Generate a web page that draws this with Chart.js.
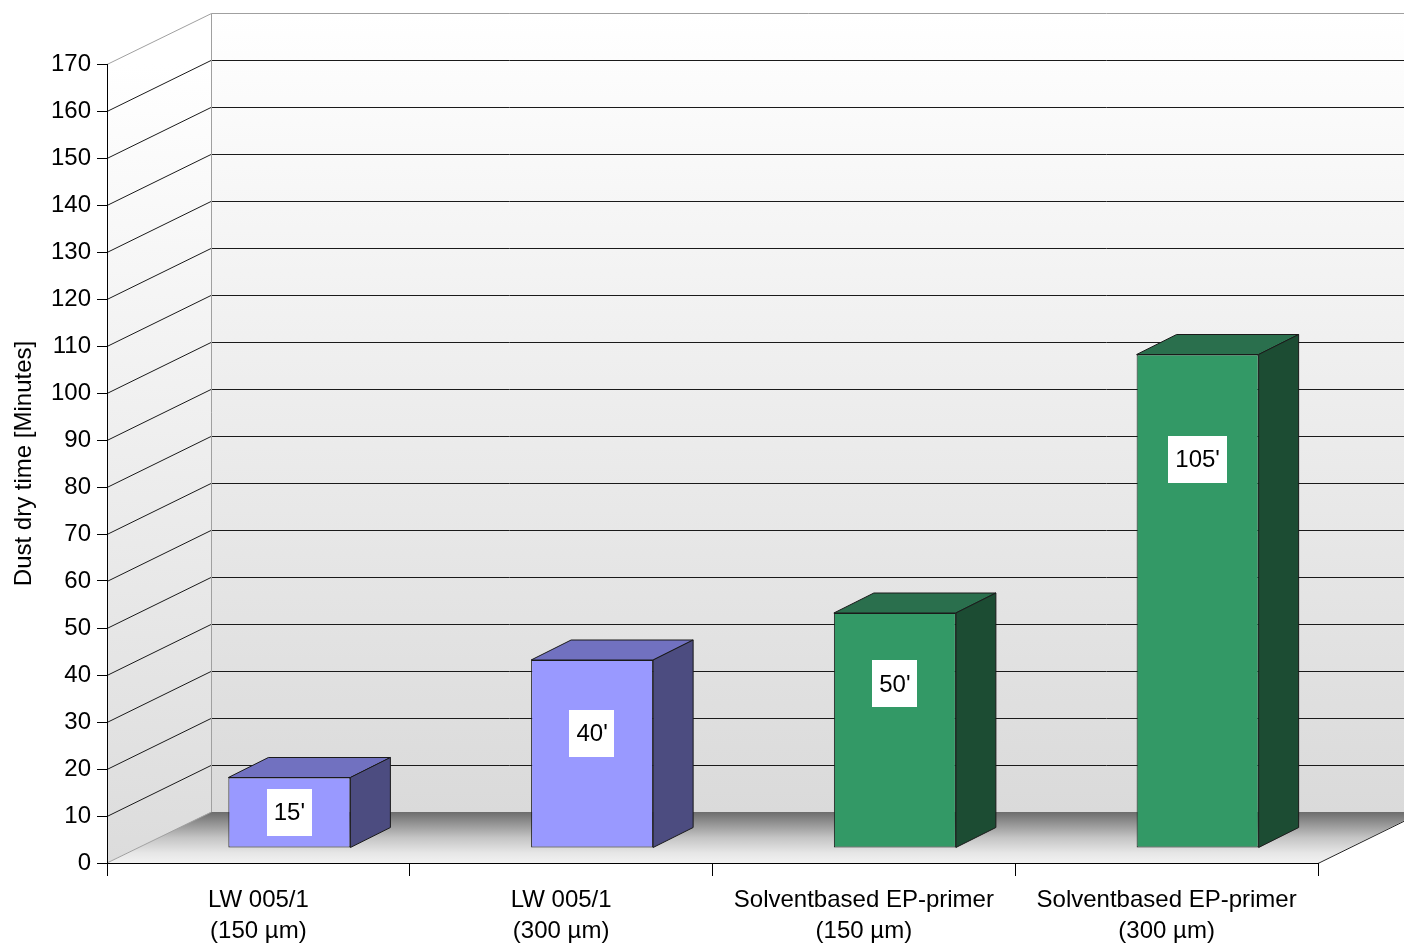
<!DOCTYPE html>
<html>
<head>
<meta charset="utf-8">
<script src="https://cdn.jsdelivr.net/npm/chart.js@4/dist/chart.umd.min.js"></script>
<style>
  html, body { margin: 0; padding: 0; background: #ffffff; }
  #wrap { width: 1404px; height: 944px; position: relative; }
</style>
</head>
<body>
<div id="wrap"><canvas id="c" width="1404" height="944"></canvas></div>
<script>
// ---- data ----
const categories = [
  ['LW 005/1', '(150 µm)'],
  ['LW 005/1', '(300 µm)'],
  ['Solventbased EP-primer', '(150 µm)'],
  ['Solventbased EP-primer', '(300 µm)']
];
const values = [15, 40, 50, 105];
const valueLabels = ["15'", "40'", "50'", "105'"];
const yMin = 0;
const yMax = 170;
const yStep = 10;
const yTitle = 'Dust dry time [Minutes]';

// ---- styling ----
const FONT = "'Liberation Sans', Arial, sans-serif";
const frontColors = ['#9999ff', '#9999ff', '#339966', '#339966'];
const topColors   = ['#7171c0', '#7171c0', '#2a6f4d', '#2a6f4d'];
const sideColors  = ['#4c4c80', '#4c4c80', '#1c4c33', '#1c4c33'];
// label anchor heights (in value units) as seen in the picture
const labelLevels = [7.5, 24.3, 34.9, 82.6];

const DEPTH = { dx: 104, dy: -51 };     // full floor / wall depth
const BAR_OFF = { dx: 31, dy: -15 };    // bar front plane offset
const BAR_DEPTH = { dx: 40, dy: -20 };  // bar depth

function poly(ctx, pts) {
  ctx.beginPath();
  ctx.moveTo(pts[0][0], pts[0][1]);
  for (let i = 1; i < pts.length; i++) ctx.lineTo(pts[i][0], pts[i][1]);
  ctx.closePath();
}

const threeD = {
  id: 'threeD',
  beforeDraw(chart) {
    const { ctx, chartArea: a, scales: { y } } = chart;
    const L = a.left, R = a.right, B = y.getPixelForValue(yMin), T = y.getPixelForValue(yMax);
    const bx0 = L + DEPTH.dx, bx1 = R + DEPTH.dx, by0 = B + DEPTH.dy, byT = T + DEPTH.dy;
    ctx.save();
    // back wall
    let g = ctx.createLinearGradient(0, byT, 0, by0);
    g.addColorStop(0, '#ffffff');
    g.addColorStop(1, '#dadada');
    ctx.fillStyle = g;
    ctx.fillRect(bx0, byT, bx1 - bx0, by0 - byT);
    // left wall
    g = ctx.createLinearGradient(0, T, 0, B);
    g.addColorStop(0, '#ffffff');
    g.addColorStop(1, '#dcdcdc');
    ctx.fillStyle = g;
    poly(ctx, [[L, T], [bx0, byT], [bx0, by0], [L, B]]);
    ctx.fill();
    // floor
    g = ctx.createLinearGradient(0, by0, 0, B);
    g.addColorStop(0, '#6c6c6c');
    g.addColorStop(0.5, '#c4c4c4');
    g.addColorStop(0.8, '#e6e6e6');
    g.addColorStop(1, '#f2f2f2');
    ctx.fillStyle = g;
    poly(ctx, [[L, B], [R, B], [bx1, by0], [bx0, by0]]);
    ctx.fill();

    // grid lines
    ctx.lineWidth = 1;
    for (let v = yMin + yStep; v < yMax; v += yStep) {
      const yy = Math.round(y.getPixelForValue(v)) + 0.5;
      ctx.strokeStyle = '#1a1a1a';
      ctx.beginPath();
      ctx.moveTo(L, yy);
      ctx.lineTo(bx0, yy + DEPTH.dy);
      ctx.lineTo(bx1, yy + DEPTH.dy);
      ctx.stroke();
    }
    // outer edges (gray)
    ctx.strokeStyle = '#a0a0a0';
    const tY = Math.round(T) + 0.5;
    ctx.beginPath();
    ctx.moveTo(L, tY);
    ctx.lineTo(bx0 + 0.5, tY + DEPTH.dy);
    ctx.lineTo(bx1, tY + DEPTH.dy);
    ctx.stroke();
    ctx.beginPath();
    ctx.moveTo(bx0 + 0.5, tY + DEPTH.dy);
    ctx.lineTo(bx0 + 0.5, by0);
    ctx.stroke();
    ctx.beginPath();
    ctx.moveTo(L, B);
    ctx.lineTo(bx0 + 0.5, by0);
    ctx.stroke();
    // floor right edge
    ctx.strokeStyle = '#222222';
    ctx.beginPath();
    ctx.moveTo(R, B + 0.5);
    ctx.lineTo(bx1, by0 + 0.5);
    ctx.stroke();
    ctx.restore();
  },
  beforeDatasetsDraw(chart) {
    chart.ctx.save();
    chart.ctx.translate(BAR_OFF.dx, BAR_OFF.dy);
  },
  afterDatasetsDraw(chart) {
    const ctx = chart.ctx;
    const yS = chart.scales.y;
    const meta = chart.getDatasetMeta(0);
    ctx.lineWidth = 1;
    ctx.strokeStyle = '#1a1a1a';
    ctx.lineJoin = 'round';
    meta.data.forEach((bar, i) => {
      const p = bar.getProps(['x', 'y', 'base', 'width'], true);
      const l = p.x - p.width / 2, r = p.x + p.width / 2;
      const t = p.y, b = p.base;
      const dx = BAR_DEPTH.dx, dy = BAR_DEPTH.dy;
      ctx.fillStyle = topColors[i];
      poly(ctx, [[l, t], [l + dx, t + dy], [r + dx, t + dy], [r, t]]);
      ctx.fill(); ctx.stroke();
      ctx.fillStyle = sideColors[i];
      poly(ctx, [[r, t], [r + dx, t + dy], [r + dx, b + dy], [r, b]]);
      ctx.fill(); ctx.stroke();
    });
    // value labels
    ctx.font = '24px ' + FONT;
    ctx.textAlign = 'center';
    ctx.textBaseline = 'middle';
    meta.data.forEach((bar, i) => {
      const p = bar.getProps(['x'], true);
      const cy = yS.getPixelForValue(labelLevels[i]);
      const w = ctx.measureText(valueLabels[i]).width + 14;
      const h = 47;
      ctx.fillStyle = '#ffffff';
      ctx.fillRect(Math.round(p.x - w / 2), Math.round(cy - h / 2), Math.round(w), h);
      ctx.fillStyle = '#000000';
      ctx.fillText(valueLabels[i], p.x, cy + 1);
    });
    ctx.restore();
  }
};

new Chart(document.getElementById('c'), {
  type: 'bar',
  data: {
    labels: categories,
    datasets: [{
      data: values,
      backgroundColor: frontColors,
      borderColor: '#1a1a1a',
      borderWidth: 1,
      borderSkipped: false,
      barPercentage: 0.403,
      categoryPercentage: 1.0,
      clip: false
    }]
  },
  options: {
    responsive: false,
    animation: false,
    devicePixelRatio: 1,
    layout: { padding: { top: 64, right: 86, left: 0, bottom: 0 } },
    plugins: {
      legend: { display: false },
      tooltip: { enabled: false },
      title: { display: false }
    },
    scales: {
      x: {
        type: 'category',
        offset: true,
        grid: { offset: true, drawOnChartArea: false, drawTicks: true, tickLength: 13, color: '#000000', lineWidth: 1 },
        border: { display: true, color: '#000000', width: 1 },
        ticks: { color: '#000000', font: { family: FONT, size: 24, lineHeight: 1.3 }, padding: 9, maxRotation: 0, autoSkip: false },
        afterFit(scale) { scale.height = 81; }
      },
      y: {
        min: yMin,
        max: yMax,
        grid: { drawOnChartArea: false, drawTicks: true, tickLength: 10, color: '#000000', lineWidth: 1 },
        border: { display: true, color: '#000000', width: 1 },
        ticks: { stepSize: yStep, color: '#000000', font: { family: FONT, size: 24 }, padding: 6 },
        title: { display: true, text: yTitle, color: '#000000', font: { family: FONT, size: 24 }, padding: { top: 10, bottom: 0 } },
        afterFit(scale) { scale.width = 107; }
      }
    }
  },
  plugins: [threeD]
});
</script>
</body>
</html>
